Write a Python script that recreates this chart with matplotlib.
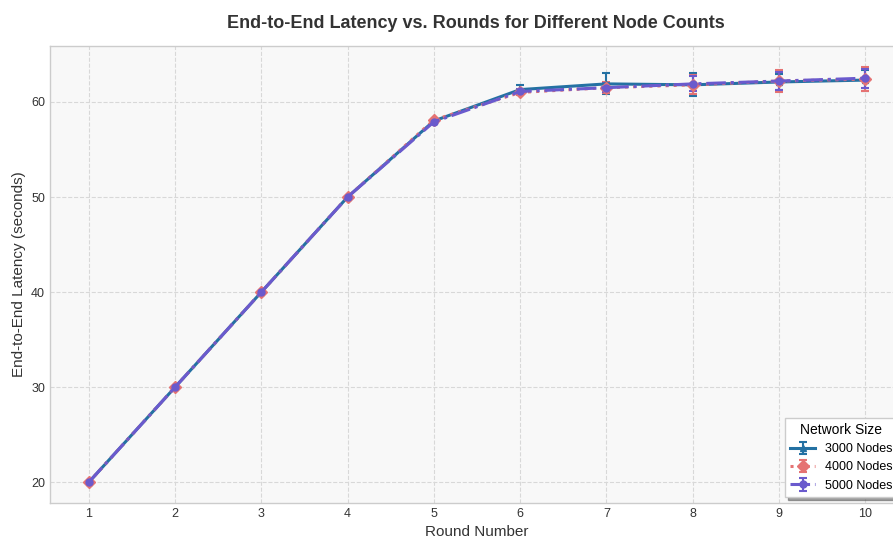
import matplotlib
matplotlib.use("Agg")
import matplotlib.pyplot as plt

plt.rcParams['font.family'] = ['Liberation Sans', 'DejaVu Sans']

rounds = [1, 2, 3, 4, 5, 6, 7, 8, 9, 10]
lat_3000 = [20, 30, 40, 50, 58.0, 61.3, 61.9, 61.8, 62.1, 62.3]
err_3000 = [0, 0, 0, 0, 0.15, 0.5, 1.1, 1.2, 0.8, 1.1]
lat_4000 = [20, 30, 40, 50, 58.1, 61.0, 61.5, 61.8, 62.2, 62.4]
err_4000 = [0, 0, 0, 0, 0.15, 0.3, 0.6, 1.0, 1.2, 1.3]
lat_5000 = [20, 30, 40, 50, 57.9, 61.1, 61.5, 61.9, 62.2, 62.5]
err_5000 = [0, 0, 0, 0, 0.15, 0.3, 0.5, 0.8, 0.9, 1.0]

fig = plt.figure(figsize=(8.93, 5.38), dpi=100)
ax = fig.add_axes([50/893, 35/538, (904-50)/893, (503-46)/538])
ax.set_facecolor('#f8f8f8')
for s in ax.spines.values():
    s.set_color('#cccccc')
    s.set_linewidth(1.0)
ax.grid(True, linestyle='--', color='#d8d8d8', linewidth=0.8)
ax.set_axisbelow(True)

ax.errorbar(rounds, lat_3000, yerr=err_3000, color='#2471a3', linestyle='-', linewidth=2.2,
            marker='^', markersize=4, capsize=3, elinewidth=1.5, capthick=1.5, label='3000 Nodes')
ax.errorbar(rounds, lat_4000, yerr=err_4000, color='#e57373', linestyle=':', linewidth=2.2,
            marker='D', markersize=6, capsize=3, elinewidth=1.5, capthick=1.5, label='4000 Nodes')
ax.errorbar(rounds, lat_5000, yerr=err_5000, color='#6a5acd', linestyle='-.', linewidth=2.2,
            marker='o', markersize=5, capsize=3, elinewidth=1.5, capthick=1.5, label='5000 Nodes')

ax.set_xticks(rounds)
ax.set_yticks([20, 30, 40, 50, 60])
ax.tick_params(axis='both', labelsize=9, colors='#333333', length=0)
ax.set_xlabel('Round Number', fontsize=11, color='#333333', labelpad=4)
ax.set_ylabel('End-to-End Latency (seconds)', fontsize=11, color='#333333')
fig.suptitle('End-to-End Latency vs. Rounds for Different Node Counts', fontsize=13,
             fontweight='bold', color='#333333', x=0.533, y=0.973)

leg = ax.legend(title='Network Size', loc='lower right', fontsize=9, title_fontsize=10,
                frameon=True, shadow=True, fancybox=False, facecolor='white', edgecolor='#cccccc')

fig.savefig('out.png', dpi=100)
